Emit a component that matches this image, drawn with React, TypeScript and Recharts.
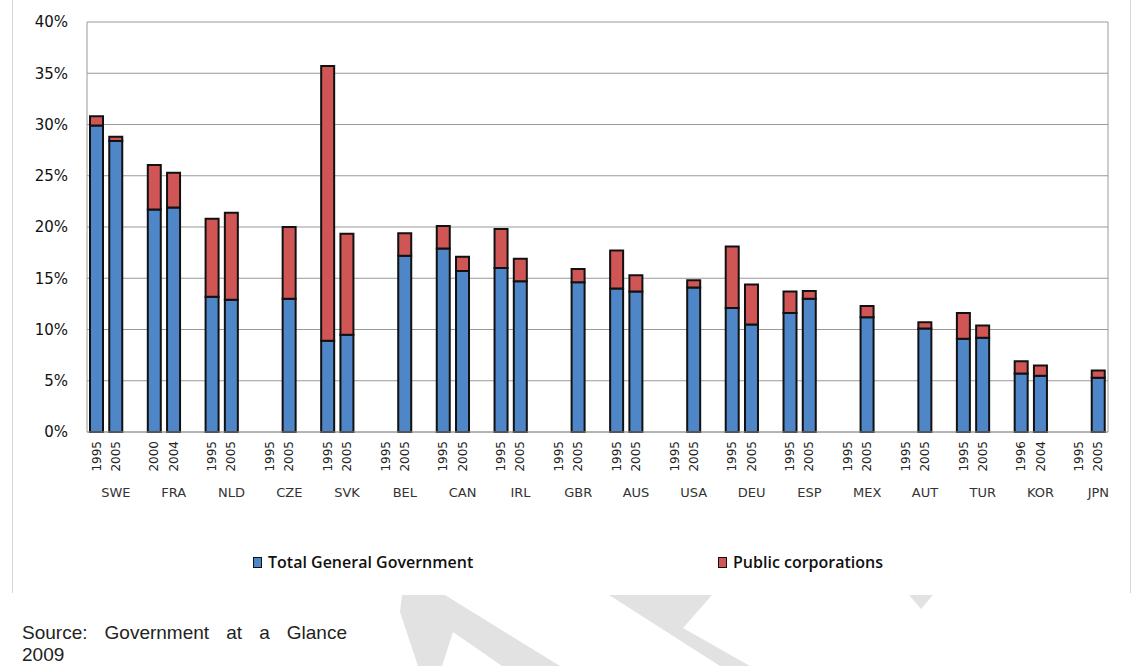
import { BarChart, Bar, XAxis, YAxis, CartesianGrid, Legend } from 'recharts'

const COUNTRIES = ['SWE', 'FRA', 'NLD', 'CZE', 'SVK', 'BEL', 'CAN', 'IRL', 'GBR', 'AUS', 'USA', 'DEU', 'ESP', 'MEX', 'AUT', 'TUR', 'KOR', 'JPN']
const FIRST_YEAR = ['1995', '2000', '1995', '1995', '1995', '1995', '1995', '1995', '1995', '1995', '1995', '1995', '1995', '1995', '1995', '1995', '1996', '1995']
const SECOND_YEAR = ['2005', '2004', '2005', '2005', '2005', '2005', '2005', '2005', '2005', '2005', '2005', '2005', '2005', '2005', '2005', '2005', '2004', '2005']

// % of ... (first year / second year), general government and public corporations
const GOV_FIRST = [29.9, 21.7, 13.2, null, 8.9, null, 17.9, 16.0, null, 14.0, null, 12.1, 11.6, null, null, 9.1, 5.7, null]
const PUB_FIRST = [0.9, 4.35, 7.6, null, 26.8, null, 2.2, 3.8, null, 3.7, null, 6.0, 2.1, null, null, 2.5, 1.2, null]
const GOV_SECOND = [28.4, 21.9, 12.9, 13.0, 9.5, 17.2, 15.7, 14.7, 14.6, 13.7, 14.1, 10.5, 13.0, 11.2, 10.1, 9.2, 5.5, 5.3]
const PUB_SECOND = [0.4, 3.4, 8.5, 7.0, 9.85, 2.2, 1.4, 2.2, 1.3, 1.6, 0.7, 3.9, 0.75, 1.1, 0.6, 1.2, 1.0, 0.7]

const SERIES = ['Total General Government', 'Public corporations']
const COLORS = ['#4f86c8', '#d05656']
const Y_TICKS = [0, 5, 10, 15, 20, 25, 30, 35, 40]

type Row = { key: string; year: string; country: string; gov: number | null; pub: number | null }

const rows: Row[] = []
COUNTRIES.forEach((c, i) => {
  rows.push({ key: c + '-a', year: FIRST_YEAR[i], country: '', gov: GOV_FIRST[i], pub: PUB_FIRST[i] })
  rows.push({ key: c + '-b', year: SECOND_YEAR[i], country: c, gov: GOV_SECOND[i], pub: PUB_SECOND[i] })
  if (i < COUNTRIES.length - 1) rows.push({ key: 'gap-' + i, year: '', country: '', gov: null, pub: null })
})
const byKey = new Map(rows.map(r => [r.key, r]))

function CategoryTick({ x, y, payload }: any) {
  const row = byKey.get(payload.value)
  if (!row) return null
  const ty = y + 9
  return (
    <g>
      {row.year && (
        <text
          x={x}
          y={ty}
          transform={`rotate(-90 ${x} ${ty})`}
          textAnchor="end"
          dominantBaseline="central"
          fontSize={12}
          fontFamily="DejaVu Sans"
          fill="#222"
        >
          {row.year}
        </text>
      )}
      {row.country && (
        <text x={x} y={y + 65} textAnchor="middle" fontSize={13} fontFamily="DejaVu Sans" fill="#333">
          {row.country}
        </text>
      )}
    </g>
  )
}

function LegendContent() {
  const lefts = [253, 718]
  return (
    <div style={{ position: 'relative', height: 20, width: 1138 }}>
      {SERIES.map((name, i) => (
        <div key={name} style={{ position: 'absolute', left: lefts[i], top: 0, display: 'flex', alignItems: 'center', height: 20 }}>
          <span style={{ width: 7, height: 9, background: COLORS[i], border: '1.5px solid #111', marginRight: 6 }} />
          <span style={{ fontFamily: 'Open Sans', fontWeight: 600, fontSize: 16, color: '#111' }}>{name}</span>
        </div>
      ))}
    </div>
  )
}

export default function App() {
  return (
    <div style={{ position: 'absolute', left: 0, top: 0, width: 1138, height: 666, background: '#fff', overflow: 'hidden' }}>
      <svg width={1138} height={666} style={{ position: 'absolute', left: 0, top: 0 }}>
        <polygon points="402,595 445,595 560,666 502,666 453,632 442,666 418,666 400,612" fill="#e2e2e2" />
        <polygon points="609,595 712,595 683,628 750,666 720,666" fill="#e2e2e2" />
        <polygon points="909,595 933,595 921,609" fill="#e2e2e2" />
      </svg>
      <div style={{ position: 'absolute', left: 12, top: -1, width: 1117, height: 594, borderLeft: '1px solid #d6d6d6', borderRight: '1px solid #d6d6d6' }} />
      <div style={{ position: 'absolute', left: 0, top: 0 }}>
        <BarChart width={1138} height={600} data={rows} margin={{ top: 22, right: 0, left: 0, bottom: 0 }}>
          <CartesianGrid vertical={false} stroke="#9a9a9a" yAxisId="left" />
          <XAxis
            dataKey="key"
            interval={0}
            tickLine={false}
            tickSize={0}
            tickMargin={0}
            height={148}
            axisLine={{ stroke: '#9a9a9a' }}
            tick={<CategoryTick />}
          />
          <YAxis
            yAxisId="left"
            domain={[0, 40]}
            ticks={Y_TICKS}
            width={87}
            tickLine={false}
            tickMargin={13}
            axisLine={{ stroke: '#9a9a9a' }}
            tickFormatter={(v: number) => `${v}%`}
            tick={{ fill: '#111', fontSize: 15, fontFamily: 'DejaVu Sans' }}
          />
          <YAxis yAxisId="right" orientation="right" width={30} domain={[0, 40]} tick={false} tickLine={false} axisLine={{ stroke: '#9a9a9a' }} />
          <Legend verticalAlign="bottom" content={<LegendContent />} wrapperStyle={{ top: 552, left: 0 }} />
          <Bar yAxisId="left" dataKey="gov" name={SERIES[0]} stackId="s" fill={COLORS[0]} stroke="#111" strokeWidth={2} barSize={13} isAnimationActive={false} />
          <Bar yAxisId="left" dataKey="pub" name={SERIES[1]} stackId="s" fill={COLORS[1]} stroke="#111" strokeWidth={2} barSize={13} isAnimationActive={false} />
        </BarChart>
      </div>
      <div style={{ position: 'absolute', left: 22, top: 622, width: 325, fontFamily: 'Liberation Sans', fontSize: 19, lineHeight: '22px', color: '#222' }}>
        <div style={{ textAlign: 'justify', textAlignLast: 'justify' }}>Source: Government at a Glance</div>
        <div>2009</div>
      </div>
    </div>
  )
}
